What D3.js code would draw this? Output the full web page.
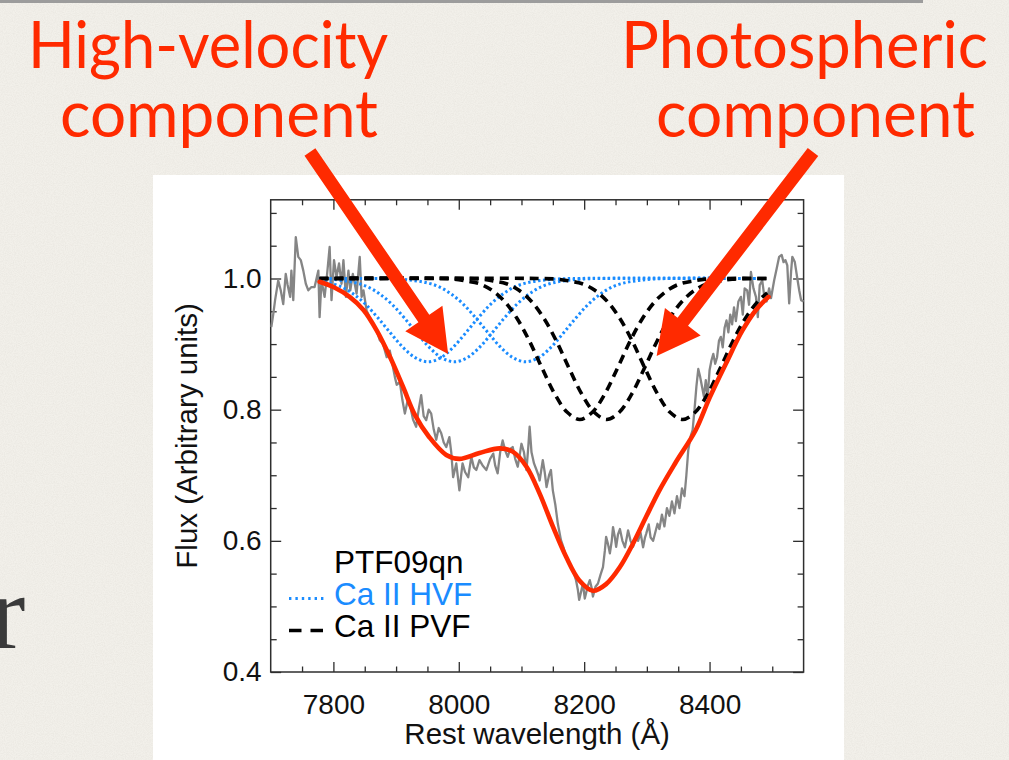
<!DOCTYPE html>
<html>
<head>
<meta charset="utf-8">
<script src="https://cdn.jsdelivr.net/npm/d3@7"></script>
<style>
  html, body { margin: 0; padding: 0; background: #f2f0ea; }
  svg { display: block; }
</style>
</head>
<body>
<svg id="chart" width="1009" height="760"></svg>
<script>
// ---- Observed spectrum of PTF09qn (rest wavelength in Å, normalised flux) ----
const specWave = [7701,7704,7707,7710,7712,7716,7720,7724,7727,7731,7733,7736,7740,7744,7748,7752,7756,7760,7765,7770,
  7776,7778,7781,7786,7790,7794,7797,7801,7805,7809,7813,7816,7820,7824,7827,7831,7837,7842,7845,7848,
  7853,7858,7863,7869,7874,7879,7885,7890,7895,7898,7901,7906,7910,7914,7918,7922,7927,7932,7936,7940,
  7944,7948,7952,7956,7960,7964,7968,7972,7976,7980,7985,7988,7991,7996,8001,8006,8010,8015,8020,8024,
  8028,8033,8038,8044,8050,8055,8058,8062,8066,8070,8074,8078,8082,8086,8090,8094,8097,8100,8104,8108,
  8111,8113,8116,8120,8124,8127,8129,8134,8137,8140,8144,8147,8150,8154,8158,8163,8167,8171,8175,8179,
  8183,8187,8190,8192,8195,8198,8201,8203,8206,8209,8212,8214,8218,8222,8226,8230,8233,8235,8238,8241,
  8244,8246,8249,8251,8254,8257,8261,8265,8268,8270,8274,8278,8282,8286,8290,8294,8297,8299,8303,8306,
  8310,8314,8317,8320,8324,8328,8332,8336,8340,8344,8348,8352,8356,8360,8363,8366,8370,8373,8376,8379,
  8382,8385,8388,8391,8394,8397,8400,8403,8406,8409,8412,8415,8418,8421,8424,8427,8430,8433,8436,8439,
  8442,8446,8450,8453,8456,8460,8463,8466,8470,8474,8477,8480,8484,8487,8491,8495,8498,8503,8507,8511,
  8515,8518,8521,8524,8527,8530,8532,8536,8540,8543,8546,8550];
const specFlux = [0.926,0.945,0.967,0.985,0.997,0.982,0.961,1.007,0.990,0.972,1.012,0.967,1.063,1.033,1.028,1.012,0.992,0.982,0.987,0.987,
  1.012,0.941,0.997,0.972,1.007,1.048,0.967,1.028,1.002,1.023,0.992,1.028,0.972,1.012,0.982,1.007,0.977,1.033,0.972,0.982,
  0.951,0.941,0.931,0.921,0.906,0.901,0.880,0.890,0.865,0.850,0.838,0.842,0.815,0.794,0.812,0.808,0.785,0.774,0.800,0.822,
  0.790,0.784,0.800,0.794,0.770,0.754,0.772,0.764,0.750,0.743,0.758,0.735,0.697,0.718,0.677,0.718,0.705,0.697,0.728,0.712,
  0.708,0.723,0.715,0.708,0.725,0.733,0.715,0.703,0.735,0.753,0.738,0.728,0.740,0.743,0.725,0.713,0.730,0.748,0.735,0.708,
  0.745,0.774,0.735,0.718,0.708,0.700,0.692,0.723,0.705,0.682,0.700,0.708,0.677,0.655,0.626,0.601,0.590,0.576,0.568,0.560,
  0.552,0.540,0.525,0.510,0.522,0.535,0.512,0.520,0.532,0.540,0.528,0.515,0.530,0.535,0.548,0.560,0.585,0.606,0.595,0.581,
  0.600,0.621,0.605,0.591,0.610,0.618,0.600,0.590,0.605,0.616,0.600,0.591,0.605,0.600,0.612,0.590,0.605,0.611,0.625,0.605,
  0.600,0.615,0.626,0.618,0.640,0.622,0.650,0.638,0.660,0.642,0.668,0.650,0.680,0.668,0.700,0.738,0.760,0.769,0.800,0.835,
  0.862,0.850,0.835,0.820,0.845,0.819,0.860,0.875,0.885,0.870,0.880,0.905,0.911,0.895,0.925,0.936,0.918,0.945,0.930,0.956,
  0.935,0.965,0.972,0.945,0.985,0.982,0.960,1.010,0.985,0.972,0.941,0.990,0.997,0.975,0.965,0.985,0.970,0.997,1.015,1.033,
  1.036,1.025,1.028,1.020,0.962,1.010,1.033,1.025,1.000,0.982,0.967,0.965];

// ---- Total model fit (red) ----
const modelWave = [7778,7800,7826,7848,7869,7890,7911,7930,7953,7980,8001,8033,8065,8086,8108,8129,8150,8171,8192,8214,
  8235,8257,8278,8299,8320,8345,8378,8400,8426,8452,8474,8494];
const modelFlux = [0.995,0.987,0.972,0.952,0.921,0.881,0.835,0.792,0.758,0.731,0.725,0.734,0.741,0.736,0.713,0.672,0.622,0.576,0.540,0.524,
  0.534,0.560,0.596,0.637,0.677,0.718,0.769,0.818,0.870,0.920,0.952,0.972];

// ---- Ca II high-velocity components (blue dotted), one per triplet line ----
const hvf1Wave = [7778,7791,7811,7831,7851,7871,7891,7911,7931,7951,7971,7991,8011,8031,8051,8071,8091,8111,8131,8151,8181,8492];
const hvf1Flux = [0.996,0.994,0.988,0.977,0.961,0.940,0.917,0.895,0.879,0.873,0.879,0.895,0.917,0.940,0.961,0.977,0.988,0.994,0.997,0.999,1.000,1.000];
const hvf2Wave = [7778,7793,7813,7833,7853,7873,7893,7913,7933,7953,7973,7993,8013,8033,8053,8073,8093,8113,8133,8153,8173,8193,8223,8492];
const hvf2Flux = [0.999,0.999,0.997,0.994,0.988,0.977,0.961,0.940,0.917,0.895,0.879,0.873,0.879,0.895,0.917,0.940,0.961,0.977,0.988,0.994,0.997,0.999,1.000,1.000];
const hvf3Wave = [7778,7877,7907,7927,7947,7967,7987,8007,8027,8047,8067,8087,8107,8127,8147,8167,8187,8207,8227,8247,8267,8287,8307,8337,8492];
const hvf3Flux = [1.000,1.000,0.999,0.997,0.994,0.988,0.977,0.961,0.940,0.917,0.895,0.879,0.873,0.879,0.895,0.917,0.940,0.961,0.977,0.988,0.994,0.997,0.999,1.000,1.000];

// ---- Ca II photospheric components (black dashed) ----
const pvf1Wave = [7778,7963,7993,8013,8033,8053,8073,8093,8113,8133,8153,8173,8193,8213,8233,8253,8273,8293,8313,8333,8353,8373,8393,8423,8492];
const pvf1Flux = [1.000,1.000,0.999,0.996,0.992,0.982,0.965,0.939,0.904,0.863,0.824,0.796,0.785,0.796,0.824,0.863,0.904,0.939,0.965,0.982,0.992,0.996,0.999,1.000,1.000];
const pvf2Wave = [7778,8006,8036,8056,8076,8096,8116,8136,8156,8176,8196,8216,8236,8256,8276,8296,8316,8336,8356,8376,8396,8416,8436,8466,8492];
const pvf2Flux = [1.000,1.000,0.999,0.996,0.992,0.982,0.965,0.939,0.904,0.863,0.824,0.796,0.785,0.796,0.824,0.863,0.904,0.939,0.965,0.982,0.992,0.996,0.999,1.000,1.000];
const pvf3Wave = [7778,8127,8157,8177,8197,8217,8237,8257,8277,8297,8317,8337,8357,8377,8397,8417,8437,8457,8477,8492];
const pvf3Flux = [1.000,1.000,0.999,0.996,0.992,0.982,0.965,0.939,0.904,0.863,0.824,0.796,0.785,0.796,0.824,0.863,0.904,0.939,0.965,0.978];

// ---- Axes ----
const xDomain = [7700, 8550];
const yDomain = [0.4, 1.12];
const xTickValues = [7800, 8000, 8200, 8400];
const yTickValues = [0.4, 0.6, 0.8, 1.0];
const xMinorStep = 50;
const yMinorStep = 0.05;

// ---- Legend entries ----
const legendTitle = "PTF09qn";
const legendItems = [
  { label: "Ca II HVF", kind: "hvf" },
  { label: "Ca II PVF", kind: "pvf" }
];

// ---- Arrow annotations (start / tip in data units) ----
const arrowLeft  = { from: [7762.6, 1.193], to: [7983.0, 0.885] };
const arrowRight = { from: [8565.0, 1.193], to: [8315.6, 0.882] };

// ---------------------------------------------------------------------------
const W = 1009, H = 760;
const RED = "#ff2a00";
const BLUE = "#1a8cff";
const svg = d3.select("#chart");

// slide background with a faint paper grain
const defs = svg.append("defs");
const paper = defs.append("filter").attr("id", "paper").attr("x", 0).attr("y", 0).attr("width", "100%").attr("height", "100%");
paper.append("feTurbulence").attr("type", "fractalNoise").attr("baseFrequency", 0.9).attr("numOctaves", 3).attr("seed", 7);
paper.append("feColorMatrix").attr("type", "matrix")
  .attr("values", "0 0 0 0 0.55  0 0 0 0 0.52  0 0 0 0 0.48  0 0 0 -1.6 1.1");
svg.append("rect").attr("width", W).attr("height", H).attr("fill", "#f2f0ea");
svg.append("rect").attr("width", W).attr("height", H).attr("fill", "#fff")
  .attr("filter", "url(#paper)").attr("opacity", 0.18);

// thin rule across the very top of the slide
svg.append("rect").attr("x", 0).attr("y", 0).attr("width", 923).attr("height", 3).attr("fill", "#9c9c9c");

// partial body-text glyph at the left edge
svg.append("text").attr("x", -10).attr("y", 648)
  .attr("font-family", "'Liberation Serif', 'DejaVu Serif', serif")
  .attr("font-size", 106).attr("fill", "#3a3a3a").text("r");

// white figure panel
svg.append("rect").attr("x", 153).attr("y", 175).attr("width", 691).attr("height", 600).attr("fill", "#ffffff");

// scales
const x = d3.scaleLinear().domain(xDomain).range([270.7, 803.6]);
const y = d3.scaleLinear().domain(yDomain).range([672, 199.8]);
const [x0, x1] = x.range();
const [y0, y1] = y.range();

const AX = "#2e2e2e";
const FONT = "'Liberation Sans', Arial, Helvetica, sans-serif";

const xMinor = d3.range(xDomain[0] + xMinorStep, xDomain[1], xMinorStep).filter(v => !xTickValues.includes(v));
const yMinor = d3.range(0.45, yDomain[1], yMinorStep).map(v => +v.toFixed(2)).filter(v => !yTickValues.some(t => Math.abs(t - v) < 1e-6));

const axes = svg.append("g");

function styleAxis(g) {
  g.select(".domain").remove();
  g.selectAll(".tick line").attr("stroke", AX).attr("stroke-width", 1.3);
}

// bottom (labelled) and top (mirrored)
axes.append("g").attr("transform", `translate(0,${y0})`)
  .call(d3.axisBottom(x).tickValues(xTickValues).tickSizeInner(-10).tickSizeOuter(0).tickPadding(22).tickFormat(d3.format("d")))
  .call(styleAxis)
  .call(g => g.selectAll("text").attr("font-family", FONT).attr("font-size", 28).attr("fill", "#111"));
axes.append("g").attr("transform", `translate(0,${y0})`)
  .call(d3.axisBottom(x).tickValues(xMinor).tickSizeInner(-5.5).tickSizeOuter(0).tickFormat(""))
  .call(styleAxis);
axes.append("g").attr("transform", `translate(0,${y1})`)
  .call(d3.axisTop(x).tickValues(xTickValues).tickSizeInner(-10).tickSizeOuter(0).tickFormat(""))
  .call(styleAxis);
axes.append("g").attr("transform", `translate(0,${y1})`)
  .call(d3.axisTop(x).tickValues(xMinor).tickSizeInner(-5.5).tickSizeOuter(0).tickFormat(""))
  .call(styleAxis);

// left (labelled) and right (mirrored)
axes.append("g").attr("transform", `translate(${x0},0)`)
  .call(d3.axisLeft(y).tickValues(yTickValues).tickSizeInner(-10.5).tickSizeOuter(0).tickPadding(9).tickFormat(d3.format(".1f")))
  .call(styleAxis)
  .call(g => g.selectAll("text").attr("font-family", FONT).attr("font-size", 28).attr("fill", "#111"));
axes.append("g").attr("transform", `translate(${x0},0)`)
  .call(d3.axisLeft(y).tickValues(yMinor).tickSizeInner(-6).tickSizeOuter(0).tickFormat(""))
  .call(styleAxis);
axes.append("g").attr("transform", `translate(${x1},0)`)
  .call(d3.axisRight(y).tickValues(yTickValues).tickSizeInner(-10.5).tickSizeOuter(0).tickFormat(""))
  .call(styleAxis);
axes.append("g").attr("transform", `translate(${x1},0)`)
  .call(d3.axisRight(y).tickValues(yMinor).tickSizeInner(-6).tickSizeOuter(0).tickFormat(""))
  .call(styleAxis);

// frame
axes.append("rect").attr("x", x0).attr("y", y1).attr("width", x1 - x0).attr("height", y0 - y1)
  .attr("fill", "none").attr("stroke", AX).attr("stroke-width", 1.5);

// axis titles
svg.append("text").attr("x", (x0 + x1) / 2).attr("y", 743.5).attr("text-anchor", "middle")
  .attr("font-family", FONT).attr("font-size", 29.5).attr("fill", "#111").text("Rest wavelength (Å)");
svg.append("text").attr("transform", `translate(197,${(y0 + y1) / 2}) rotate(-90)`).attr("text-anchor", "middle")
  .attr("font-family", FONT).attr("font-size", 29.5).attr("fill", "#111").text("Flux (Arbitrary units)");

// line generators
const pairs = (w, f) => w.map((v, i) => [v, f[i]]);
const rough = d3.line().x(d => x(d[0])).y(d => y(d[1]));
const smooth = d3.line().x(d => x(d[0])).y(d => y(d[1])).curve(d3.curveCatmullRom.alpha(0.5));

const plot = svg.append("g");

// observed spectrum
plot.append("path").datum(pairs(specWave, specFlux)).attr("d", rough)
  .attr("fill", "none").attr("stroke", "#858585").attr("stroke-width", 2.3).attr("stroke-linejoin", "round");

// high-velocity components
[[hvf1Wave, hvf1Flux], [hvf2Wave, hvf2Flux], [hvf3Wave, hvf3Flux]].forEach(([w, f]) => {
  plot.append("path").datum(pairs(w, f)).attr("d", smooth)
    .attr("fill", "none").attr("stroke", BLUE).attr("stroke-width", 3).attr("stroke-dasharray", "2.4 2.6");
});

// photospheric components
[[pvf1Wave, pvf1Flux], [pvf2Wave, pvf2Flux], [pvf3Wave, pvf3Flux]].forEach(([w, f]) => {
  plot.append("path").datum(pairs(w, f)).attr("d", smooth)
    .attr("fill", "none").attr("stroke", "#000").attr("stroke-width", 3.6).attr("stroke-dasharray", "9 6");
});

// total fit
plot.append("path").datum(pairs(modelWave, modelFlux)).attr("d", smooth)
  .attr("fill", "none").attr("stroke", RED).attr("stroke-width", 4.6).attr("stroke-linecap", "round");

// legend
const leg = svg.append("g").attr("font-family", FONT).attr("font-size", 31.5);
leg.append("text").attr("x", 334).attr("y", 573).attr("fill", "#000").text(legendTitle);
legendItems.forEach((item, i) => {
  const by = 605 + i * 32;
  const ly = by - 6.5;
  const isH = item.kind === "hvf";
  leg.append("line").attr("x1", 289).attr("x2", 324).attr("y1", ly).attr("y2", ly)
    .attr("stroke", isH ? BLUE : "#000").attr("stroke-width", isH ? 3 : 3.6)
    .attr("stroke-dasharray", isH ? "2.4 4" : "12.5 9");
  leg.append("text").attr("x", 334).attr("y", by).attr("fill", isH ? BLUE : "#000").text(item.label);
});

// arrows
function arrow(a) {
  const s = [x(a.from[0]), y(a.from[1])];
  const t = [x(a.to[0]), y(a.to[1])];
  const dx = t[0] - s[0], dy = t[1] - s[1];
  const L = Math.hypot(dx, dy);
  const ux = dx / L, uy = dy / L, px = -uy, py = ux;
  const headLen = 43, headHalf = 22.5, shaftHalf = 6.6;
  const b = [t[0] - ux * headLen, t[1] - uy * headLen];
  const pts = [
    [s[0] + px * shaftHalf, s[1] + py * shaftHalf],
    [b[0] + px * shaftHalf, b[1] + py * shaftHalf],
    [b[0] + px * headHalf, b[1] + py * headHalf],
    t,
    [b[0] - px * headHalf, b[1] - py * headHalf],
    [b[0] - px * shaftHalf, b[1] - py * shaftHalf],
    [s[0] - px * shaftHalf, s[1] - py * shaftHalf]
  ];
  svg.append("polygon").attr("points", pts.map(p => p.join(",")).join(" ")).attr("fill", RED);
}
arrow(arrowLeft);
arrow(arrowRight);

// slide annotations
const ann = svg.append("g").attr("font-family", "Lato, 'Open Sans', sans-serif").attr("font-size", 66).attr("fill", RED);
[
  { t: "High-velocity", x: 28, y: 68, w: 360 },
  { t: "component", x: 60, y: 137, w: 318 },
  { t: "Photospheric", x: 621, y: 68, w: 367 },
  { t: "component", x: 656, y: 137, w: 319 }
].forEach(d => {
  ann.append("text").attr("x", d.x).attr("y", d.y).attr("textLength", d.w)
    .attr("lengthAdjust", "spacingAndGlyphs").text(d.t);
});
</script>
</body>
</html>
